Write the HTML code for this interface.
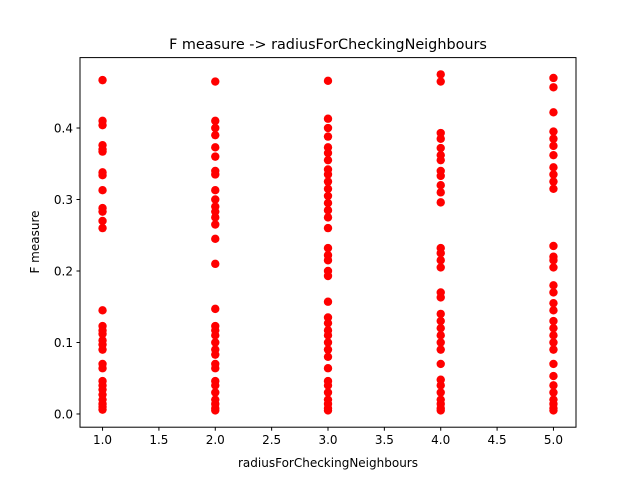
<!DOCTYPE html>
<html><head><meta charset="utf-8"><style>
body{margin:0;background:#fff;font-family:"Liberation Sans","DejaVu Sans",sans-serif;}
text{font-family:"DejaVu Sans","Liberation Sans",sans-serif;}
</style></head><body>
<svg id="chart" width="640" height="480" xmlns="http://www.w3.org/2000/svg">
<rect width="640" height="480" fill="#fff"/>
<text x="328" y="49" font-size="14.4" text-anchor="middle">F measure -&gt; radiusForCheckingNeighbours</text>
<g id="ticks"></g>
<g id="points"></g>
<rect x="80" y="57.6" width="496" height="369.6" fill="none" stroke="#000" stroke-width="1"/>
<text x="328" y="467" font-size="12" text-anchor="middle">radiusForCheckingNeighbours</text>
<text transform="translate(39,242) rotate(-90)" font-size="12" text-anchor="middle">F measure</text>
</svg>
<script>
const xCategories=[1,2,3,4,5];
const col1=[0.467,0.41,0.404,0.376,0.37,0.367,0.338,0.334,0.313,0.288,0.283,0.27,0.26,0.145,0.123,0.117,0.112,0.103,0.097,0.09,0.07,0.064,0.046,0.04,0.034,0.027,0.02,0.014,0.01,0.006];
const col2=[0.465,0.41,0.4,0.39,0.373,0.36,0.34,0.335,0.313,0.3,0.29,0.283,0.275,0.265,0.245,0.21,0.147,0.123,0.117,0.11,0.1,0.09,0.083,0.07,0.064,0.046,0.04,0.03,0.02,0.014,0.008,0.005];
const col3=[0.466,0.413,0.4,0.388,0.373,0.365,0.355,0.342,0.335,0.325,0.315,0.305,0.295,0.285,0.275,0.26,0.232,0.222,0.215,0.2,0.193,0.157,0.135,0.127,0.117,0.11,0.1,0.09,0.08,0.064,0.046,0.04,0.03,0.02,0.014,0.008,0.005];
const col4=[0.475,0.465,0.393,0.385,0.372,0.362,0.355,0.34,0.333,0.32,0.31,0.296,0.232,0.225,0.215,0.205,0.17,0.163,0.14,0.13,0.12,0.11,0.1,0.09,0.07,0.048,0.04,0.03,0.02,0.014,0.008,0.005];
const col5=[0.47,0.457,0.422,0.395,0.385,0.375,0.362,0.345,0.335,0.325,0.315,0.235,0.22,0.215,0.205,0.18,0.17,0.155,0.145,0.13,0.12,0.11,0.1,0.09,0.07,0.053,0.04,0.03,0.02,0.014,0.008,0.005];
const seriesValues=[col1,col2,col3,col4,col5];
const xTicks=[1.0,1.5,2.0,2.5,3.0,3.5,4.0,4.5,5.0];
const yTicks=[0.0,0.1,0.2,0.3,0.4];
const NS="http://www.w3.org/2000/svg";
function xs(v){return 80+(v-0.8)/(5.2-0.8)*496;}
function ys(v){return 427.2-(v+0.0185)/(0.4985+0.0185)*369.6;}
const tg=document.getElementById('ticks');
xTicks.forEach(t=>{
 const l=document.createElementNS(NS,'line');
 
 
 l.setAttribute('x1',xs(t));l.setAttribute('x2',xs(t));l.setAttribute('y1',427.2);l.setAttribute('y2',430.7);l.setAttribute('stroke','#000');
 tg.appendChild(l);
 const tx=document.createElementNS(NS,'text');
 
 
 tx.setAttribute('x',xs(t));tx.setAttribute('y',444);tx.setAttribute('font-size','12');tx.setAttribute('text-anchor','middle');
 tx.textContent=t.toFixed(1);tg.appendChild(tx);
});
yTicks.forEach(t=>{
 const l=document.createElementNS(NS,'line');
 
 
 l.setAttribute('x1',76.5);l.setAttribute('x2',80);l.setAttribute('y1',ys(t));l.setAttribute('y2',ys(t));l.setAttribute('stroke','#000');
 tg.appendChild(l);
 const tx=document.createElementNS(NS,'text');
 
 
 tx.setAttribute('x',73);tx.setAttribute('y',ys(t)+4.5);tx.setAttribute('font-size','12');tx.setAttribute('text-anchor','end');
 tx.textContent=t.toFixed(1);tg.appendChild(tx);
});
const pg=document.getElementById('points');
seriesValues.forEach((vals,i)=>{
 vals.forEach(v=>{
  const c=document.createElementNS(NS,'circle');
  
  
  c.setAttribute('cx',xs(xCategories[i]));c.setAttribute('cy',ys(v));c.setAttribute('r',4.2);c.setAttribute('fill','#ff0000');
  pg.appendChild(c);
 });
});
</script>
</body></html>
